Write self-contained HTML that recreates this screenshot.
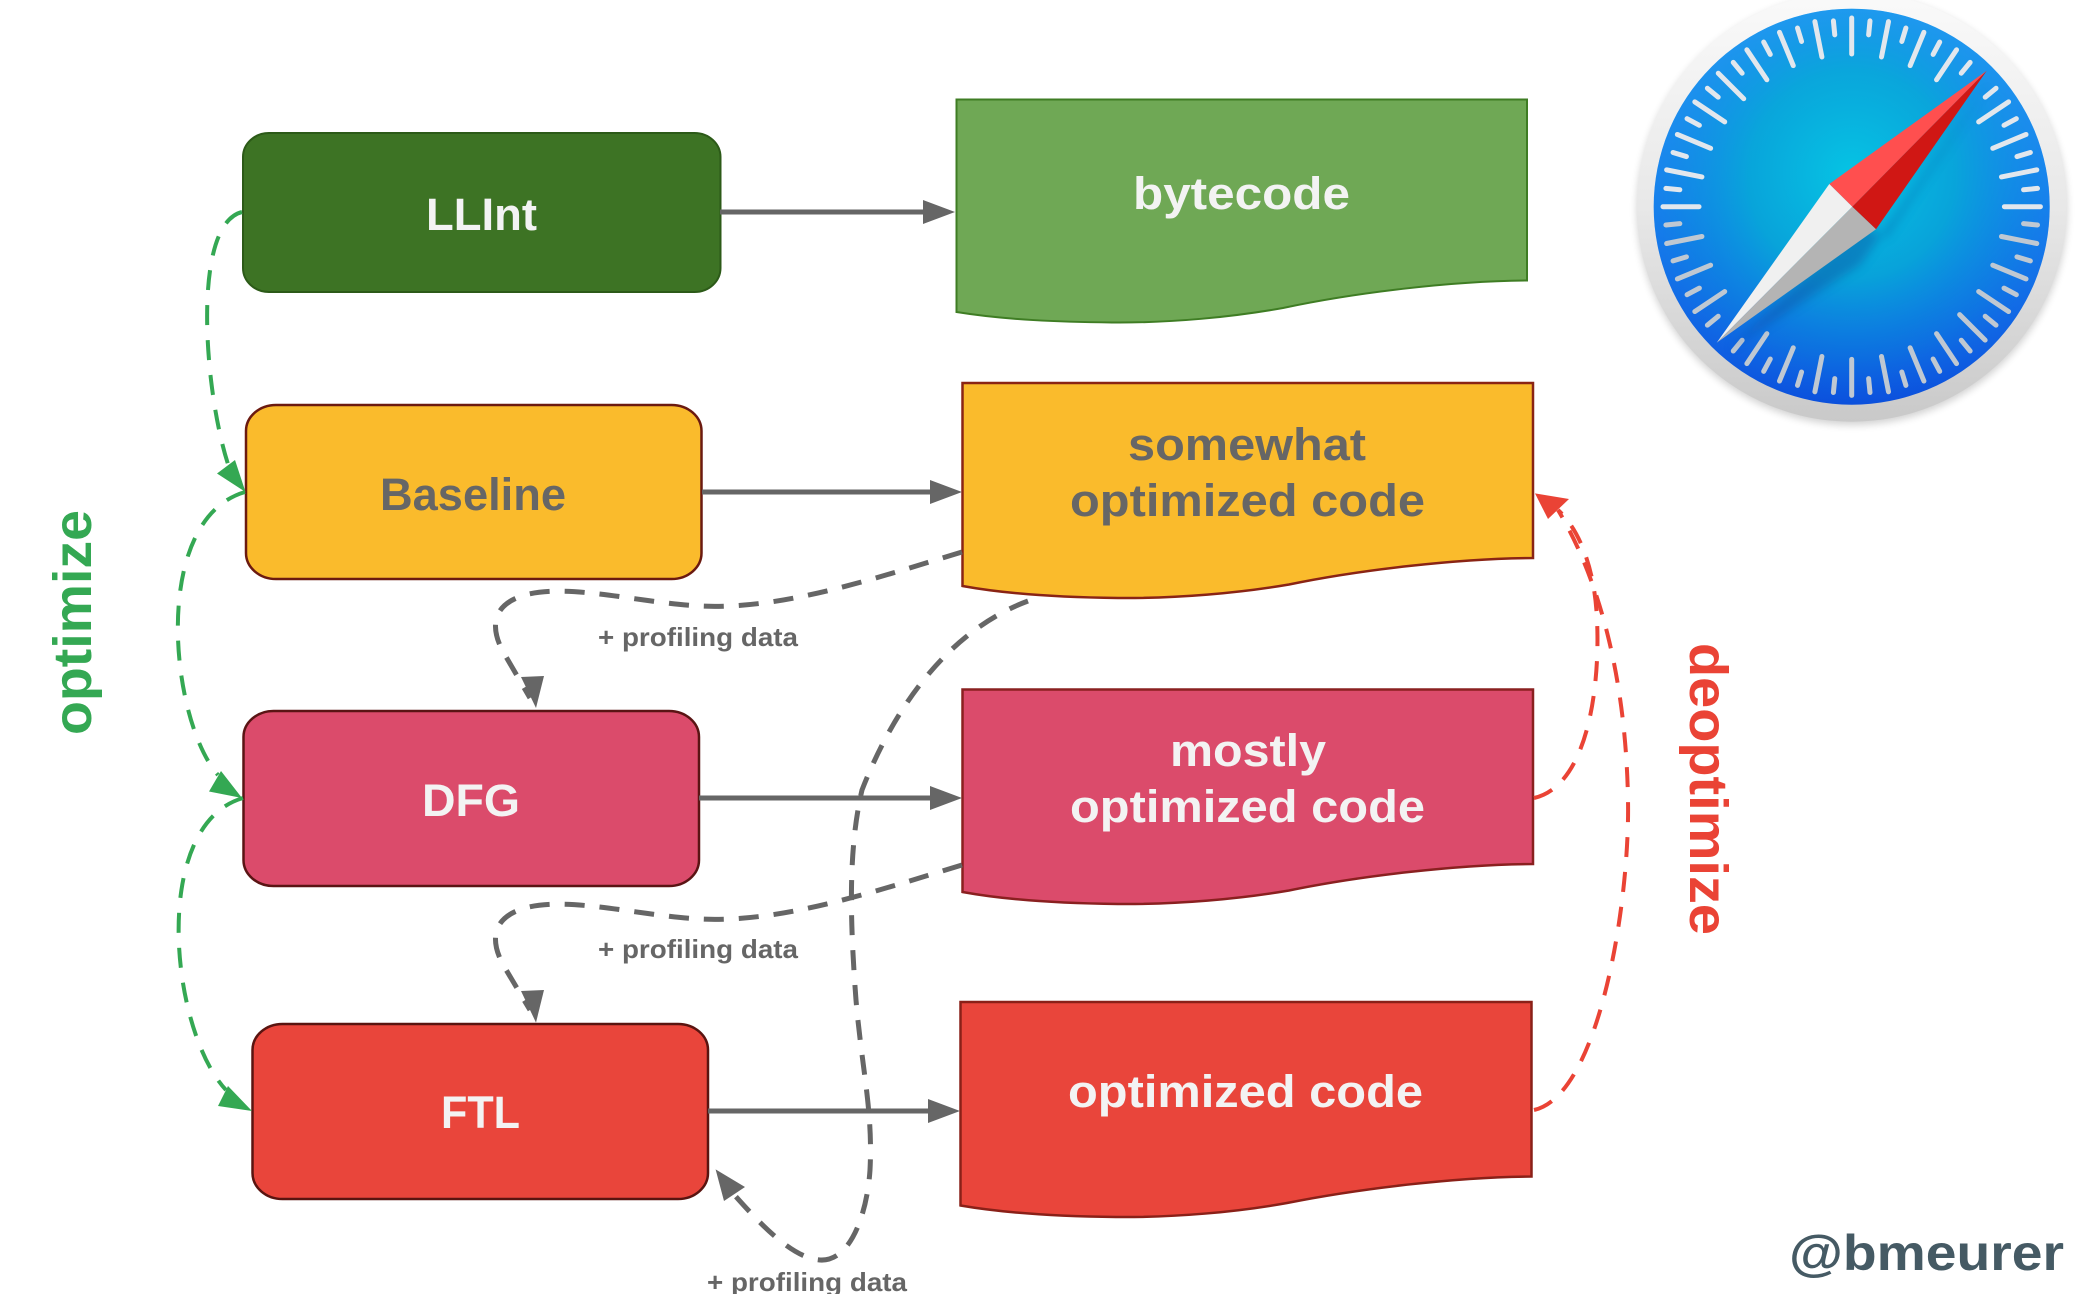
<!DOCTYPE html>
<html><head><meta charset="utf-8"><style>
html,body{margin:0;padding:0;background:#fff}
svg{display:block}
text{font-family:"Liberation Sans",sans-serif;font-weight:700}
.t{font-size:45px;fill:#f3f3f3}
.p{font-size:26px;fill:#666;font-weight:700}
</style></head><body>
<svg width="2082" height="1294" viewBox="0 0 2082 1294" xmlns="http://www.w3.org/2000/svg">
<defs>
<linearGradient id="ring" x1="0" y1="0" x2="0" y2="1"><stop offset="0" stop-color="#fafafa"/><stop offset=".5" stop-color="#e8e8e8"/><stop offset="1" stop-color="#c9c9c9"/></linearGradient>
<linearGradient id="blue" x1="0" y1="0" x2="0" y2="1"><stop offset="0" stop-color="#35a4ff"/><stop offset=".5" stop-color="#1a80ee"/><stop offset="1" stop-color="#0b50dc"/></linearGradient>
<radialGradient id="cyan" cx=".5" cy=".42" r=".58"><stop offset="0" stop-color="#06c4e4"/><stop offset=".45" stop-color="#06a8d8" stop-opacity=".9"/><stop offset=".8" stop-color="#0a88e0" stop-opacity=".4"/><stop offset="1" stop-color="#1070ee" stop-opacity="0"/></radialGradient>
<filter id="b1" x="-20%" y="-20%" width="140%" height="140%"><feGaussianBlur stdDeviation="4"/></filter>
<filter id="b2" x="-20%" y="-20%" width="140%" height="140%"><feGaussianBlur stdDeviation="5"/></filter>
<path id="L" d="M1851.7 18V54"/>
<path id="S" d="M1851.7 20V34"/>
</defs>

<!-- Safari icon -->
<circle cx="1852" cy="210" r="215" fill="#000" opacity=".18" filter="url(#b1)"/>
<circle cx="1851.7" cy="206.7" r="215" fill="url(#ring)"/>
<circle cx="1851.7" cy="206.7" r="198" fill="url(#blue)"/>
<circle cx="1851.7" cy="206.7" r="198" fill="url(#cyan)"/>
<g stroke="#e2e7ed" stroke-linecap="round" fill="none" stroke-width="5">
<use href="#L"/>
<use href="#L" transform="rotate(11.25 1851.7 206.7)"/>
<use href="#L" transform="rotate(22.5 1851.7 206.7)"/>
<use href="#L" transform="rotate(33.75 1851.7 206.7)"/>
<use href="#L" transform="rotate(56.25 1851.7 206.7)"/>
<use href="#L" transform="rotate(67.5 1851.7 206.7)"/>
<use href="#L" transform="rotate(78.75 1851.7 206.7)"/>
<use href="#L" transform="rotate(90 1851.7 206.7)"/>
<use href="#L" transform="rotate(-11.25 1851.7 206.7)"/>
<use href="#L" transform="rotate(-22.5 1851.7 206.7)"/>
<use href="#L" transform="rotate(-33.75 1851.7 206.7)"/>
<use href="#L" transform="rotate(-45 1851.7 206.7)"/>
<use href="#L" transform="rotate(-56.25 1851.7 206.7)"/>
<use href="#L" transform="rotate(-67.5 1851.7 206.7)"/>
<use href="#L" transform="rotate(-78.75 1851.7 206.7)"/>
<use href="#L" transform="rotate(-90 1851.7 206.7)"/>
<use href="#S" transform="rotate(5.625 1851.7 206.7)"/>
<use href="#S" transform="rotate(16.875 1851.7 206.7)"/>
<use href="#S" transform="rotate(28.125 1851.7 206.7)"/>
<use href="#S" transform="rotate(39.375 1851.7 206.7)"/>
<use href="#S" transform="rotate(50.625 1851.7 206.7)"/>
<use href="#S" transform="rotate(61.875 1851.7 206.7)"/>
<use href="#S" transform="rotate(73.125 1851.7 206.7)"/>
<use href="#S" transform="rotate(84.375 1851.7 206.7)"/>
<use href="#S" transform="rotate(-5.625 1851.7 206.7)"/>
<use href="#S" transform="rotate(-16.875 1851.7 206.7)"/>
<use href="#S" transform="rotate(-28.125 1851.7 206.7)"/>
<use href="#S" transform="rotate(-39.375 1851.7 206.7)"/>
<use href="#S" transform="rotate(-50.625 1851.7 206.7)"/>
<use href="#S" transform="rotate(-61.875 1851.7 206.7)"/>
<use href="#S" transform="rotate(-73.125 1851.7 206.7)"/>
<use href="#S" transform="rotate(-84.375 1851.7 206.7)"/>
</g>
<g stroke="#bfc8d2" stroke-linecap="round" fill="none" stroke-width="5">
<use href="#L" transform="rotate(101.25 1851.7 206.7)"/>
<use href="#L" transform="rotate(112.5 1851.7 206.7)"/>
<use href="#L" transform="rotate(123.75 1851.7 206.7)"/>
<use href="#L" transform="rotate(135 1851.7 206.7)"/>
<use href="#L" transform="rotate(146.25 1851.7 206.7)"/>
<use href="#L" transform="rotate(157.5 1851.7 206.7)"/>
<use href="#L" transform="rotate(168.75 1851.7 206.7)"/>
<use href="#L" transform="rotate(180 1851.7 206.7)"/>
<use href="#L" transform="rotate(191.25 1851.7 206.7)"/>
<use href="#L" transform="rotate(202.5 1851.7 206.7)"/>
<use href="#L" transform="rotate(213.75 1851.7 206.7)"/>
<use href="#L" transform="rotate(236.25 1851.7 206.7)"/>
<use href="#L" transform="rotate(247.5 1851.7 206.7)"/>
<use href="#L" transform="rotate(258.75 1851.7 206.7)"/>
<use href="#S" transform="rotate(95.625 1851.7 206.7)"/>
<use href="#S" transform="rotate(106.875 1851.7 206.7)"/>
<use href="#S" transform="rotate(118.125 1851.7 206.7)"/>
<use href="#S" transform="rotate(129.375 1851.7 206.7)"/>
<use href="#S" transform="rotate(140.625 1851.7 206.7)"/>
<use href="#S" transform="rotate(151.875 1851.7 206.7)"/>
<use href="#S" transform="rotate(163.125 1851.7 206.7)"/>
<use href="#S" transform="rotate(174.375 1851.7 206.7)"/>
<use href="#S" transform="rotate(185.625 1851.7 206.7)"/>
<use href="#S" transform="rotate(196.875 1851.7 206.7)"/>
<use href="#S" transform="rotate(208.125 1851.7 206.7)"/>
<use href="#S" transform="rotate(219.375 1851.7 206.7)"/>
<use href="#S" transform="rotate(230.625 1851.7 206.7)"/>
<use href="#S" transform="rotate(241.875 1851.7 206.7)"/>
<use href="#S" transform="rotate(253.125 1851.7 206.7)"/>
<use href="#S" transform="rotate(264.375 1851.7 206.7)"/>
</g>
<polygon points="1992,80 1886,238 1860,224 1728,350 1860,265" fill="#0a3a90" opacity=".35" filter="url(#b2)"/>
<polygon points="1986.7,70.7 1829.3,184 1852.3,206.7" fill="#ff4f4f"/>
<polygon points="1986.7,70.7 1852.3,206.7 1876,229.3" fill="#d01714"/>
<polygon points="1716.7,342.7 1829.3,184 1852.3,206.7" fill="#f0f0f0"/>
<polygon points="1716.7,342.7 1852.3,206.7 1876,229.3" fill="#b4b4b4"/>

<!-- Boxes -->
<rect x="243" y="133" width="477.5" height="159" rx="26" ry="24" fill="#3d7324" stroke="#2c5a18" stroke-width="2"/>
<rect x="246" y="405" width="455.5" height="174" rx="30" ry="26" fill="#fabb2c" stroke="#6b1a10" stroke-width="2.5"/>
<rect x="243.5" y="711" width="455.5" height="175" rx="30" ry="26" fill="#db4b6b" stroke="#5a1414" stroke-width="2.5"/>
<rect x="252.5" y="1024" width="455.5" height="175" rx="30" ry="26" fill="#e9453b" stroke="#5a1410" stroke-width="2.5"/>

<!-- Documents -->
<path d="M956.5 99.5H1527V280.5C1451 281 1353 293 1283 308C1233 317 1172 323 1112 322.5C1060 322 1006 320 956.5 312Z" fill="#6fa855" stroke="#3f7d24" stroke-width="2"/>
<path d="M962.5 383H1533V558C1457 558.5 1359 570 1289 584.5C1239 593 1178 598.5 1118 598C1066 597.5 1012 595 962.5 586Z" fill="#fabb2c" stroke="#8a2414" stroke-width="2.5"/>
<path d="M962.5 689.5H1533V864C1457 864.5 1359 876 1289 890.5C1239 899 1178 904.5 1118 904C1066 903.5 1012 901 962.5 892Z" fill="#db4b6b" stroke="#8a2020" stroke-width="2.5"/>
<path d="M960.5 1002H1531.5V1176.5C1455 1177 1357 1189 1287 1203C1237 1212 1176 1217.5 1116 1217C1064 1216.5 1010 1214 960.5 1205.5Z" fill="#e9453b" stroke="#8a2018" stroke-width="2.5"/>

<!-- Solid arrows -->
<g stroke="#666" stroke-width="5" fill="none">
<path d="M720 212H926"/><path d="M702 492H932"/><path d="M699 798H932"/><path d="M708 1111H930"/>
</g>
<g fill="#666">
<polygon points="955,212 923,200 923,224"/>
<polygon points="962,492 930,480 930,504"/>
<polygon points="962,798 930,786 930,810"/>
<polygon points="960,1111 928,1099 928,1123"/>
</g>

<!-- Green dashed -->
<g fill="none" stroke="#34a853" stroke-width="4" stroke-dasharray="20 15">
<path d="M242 212C190 225 205 400 230 470"/>
<path d="M245 492C150 520 170 720 218 775"/>
<path d="M243 798C150 825 170 1030 226 1090"/>
</g>
<g fill="#34a853">
<polygon points="245.5,492 235,460 217,473.5"/>
<polygon points="242,798 221,771 209,791.5"/>
<polygon points="252,1111 228,1086 218,1106"/>
</g>

<!-- Grey dashed -->
<g fill="none" stroke="#666" stroke-width="5" stroke-dasharray="20 15">
<path d="M962 552C870 580 780 610 700 606C640 603 570 583 525 595C490 605 490 630 505 655L530 698"/>
<path d="M962 865C870 893 780 923 700 919C640 916 570 896 525 908C490 918 490 943 505 968L530 1010"/>
<path d="M1028 601C950 630 895 705 862 790C848 850 850 920 856 1000C862 1070 873 1110 870 1170C867 1215 850 1262 820 1260C790 1258 755 1218 730 1190"/>
</g>
<g fill="#666">
<polygon points="536,708 521,677 544,676"/>
<polygon points="536,1022.6 521,991 544,990"/>
<polygon points="715.6,1169.4 724,1201 745,1187"/>
</g>

<!-- Red dashed -->
<g fill="none" stroke="#ea4335" stroke-width="4" stroke-dasharray="20 15">
<path d="M1534 798C1590 785 1600 680 1597 620C1595 570 1580 530 1558 510"/>
<path d="M1534 1110C1600 1095 1630 900 1628 800C1626 680 1600 580 1558 510"/>
</g>
<polygon points="1535,493.4 1569,499 1548,519" fill="#ea4335"/>

<!-- Labels -->
<text class="t" x="426" y="230" textLength="111" lengthAdjust="spacingAndGlyphs">LLInt</text>
<text class="t" x="380" y="510" textLength="186" lengthAdjust="spacingAndGlyphs" style="fill:#666">Baseline</text>
<text class="t" x="422" y="816" textLength="98" lengthAdjust="spacingAndGlyphs">DFG</text>
<text class="t" x="441" y="1128" textLength="79" lengthAdjust="spacingAndGlyphs">FTL</text>
<text class="t" x="1133" y="209" textLength="217" lengthAdjust="spacingAndGlyphs">bytecode</text>
<text class="t" x="1128" y="460" textLength="238" lengthAdjust="spacingAndGlyphs" style="fill:#666">somewhat</text>
<text class="t" x="1070" y="516" textLength="355" lengthAdjust="spacingAndGlyphs" style="fill:#666">optimized code</text>
<text class="t" x="1170" y="766" textLength="156" lengthAdjust="spacingAndGlyphs">mostly</text>
<text class="t" x="1070" y="822" textLength="355" lengthAdjust="spacingAndGlyphs">optimized code</text>
<text class="t" x="1068" y="1107" textLength="355" lengthAdjust="spacingAndGlyphs">optimized code</text>
<text class="p" x="598" y="646" textLength="200" lengthAdjust="spacingAndGlyphs">+ profiling data</text>
<text class="p" x="598" y="958" textLength="200" lengthAdjust="spacingAndGlyphs">+ profiling data</text>
<text class="p" x="707" y="1291" textLength="200" lengthAdjust="spacingAndGlyphs">+ profiling data</text>
<text transform="translate(91,735) rotate(-90)" font-size="54" fill="#34a853" textLength="225" lengthAdjust="spacingAndGlyphs">optimize</text>
<text transform="translate(1690,643) rotate(90)" font-size="54" fill="#ea4335" textLength="292" lengthAdjust="spacingAndGlyphs">deoptimize</text>
<text x="1789" y="1270" font-size="50" fill="#455a64" textLength="275" lengthAdjust="spacingAndGlyphs">@bmeurer</text>
</svg>
</body></html>
